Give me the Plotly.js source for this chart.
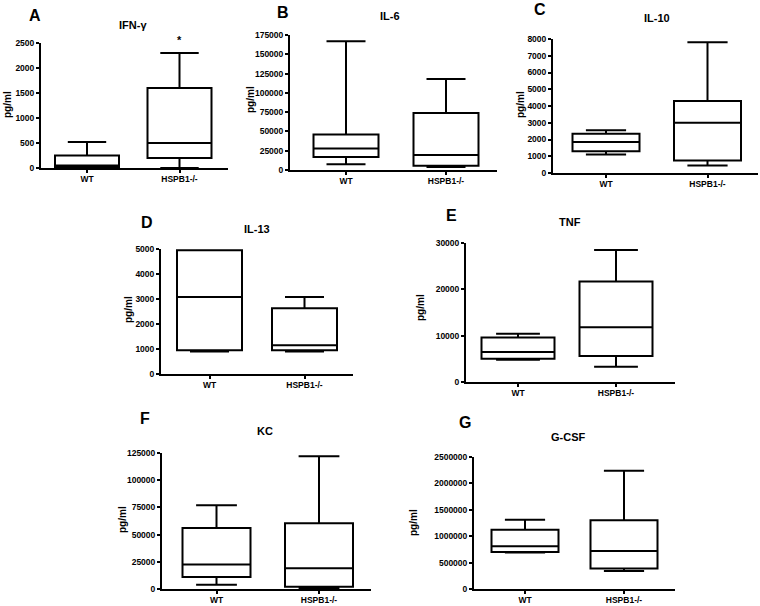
<!DOCTYPE html>
<html><head><meta charset="utf-8">
<script src="https://cdn.plot.ly/plotly-3.0.1.min.js"></script>
<style>html,body{margin:0;padding:0;background:#fff}#chart{width:760px;height:606px}</style>
</head><body><div id="chart"></div>
<script>
const groups = ['WT', 'HSPB1-/-'];
const panelLetters = ['A', 'B', 'C', 'D', 'E', 'F', 'G'];
const cytokines = ['IFN-γ', 'IL-6', 'IL-10', 'IL-13', 'TNF', 'KC', 'G-CSF'];
const yLabel = 'pg/ml';

// five-number summaries [min, q1, median, q3, max]
const ifng_WT = [0, 20, 50, 250, 520];
const ifng_KO = [0, 200, 500, 1600, 2300];
const il6_WT = [7500, 17000, 28000, 46000, 167000];
const il6_KO = [4000, 5500, 19500, 74000, 118000];
const il10_WT = [1100, 1300, 1850, 2350, 2550];
const il10_KO = [450, 750, 3000, 4300, 7800];
const il13_WT = [900, 950, 3080, 4950, 4950];
const il13_KO = [900, 950, 1150, 2630, 3080];
const tnf_WT = [4800, 5000, 6500, 9600, 10400];
const tnf_KO = [3300, 5600, 11800, 21700, 28500];
const kc_WT = [4000, 11000, 22500, 56000, 77000];
const kc_KO = [1000, 2000, 19000, 60500, 122000];
const gcsf_WT = [690000, 700000, 810000, 1120000, 1310000];
const gcsf_KO = [340000, 390000, 720000, 1300000, 2240000];

const yTickMax = [2500, 175000, 8000, 5000, 30000, 125000, 2500000];
const yTickStep = [500, 25000, 1000, 1000, 10000, 25000, 500000];

const seriesWT = [ifng_WT, il6_WT, il10_WT, il13_WT, tnf_WT, kc_WT, gcsf_WT];
const seriesKO = [ifng_KO, il6_KO, il10_KO, il13_KO, tnf_KO, kc_KO, gcsf_KO];

// layout geometry in pixels: y-axis x, x-axis end, zero y, top y, WT centre, KO centre, box width
const W = 760, H = 606;
const geom = [
  {ax: 41, ex: 228, y0: 168, yt: 43, c0: 87, c1: 179.5, bw: 64, letter: [35, 15], title: [133, 25], ylab: [8, 105]},
  {ax: 290, ex: 497, y0: 170, yt: 35, c0: 346, c1: 446, bw: 65, letter: [283, 12], title: [390, 16], ylab: [250, 100]},
  {ax: 553, ex: 758, y0: 173, yt: 39, c0: 606, c1: 707.5, bw: 67, letter: [540, 10], title: [657, 18], ylab: [521, 105]},
  {ax: 161, ex: 353, y0: 374, yt: 249, c0: 209.5, c1: 304.5, bw: 65, letter: [147, 223], title: [257, 229], ylab: [128, 310]},
  {ax: 466, ex: 675, y0: 382, yt: 243, c0: 518, c1: 616, bw: 73, letter: [452, 215], title: [570, 222], ylab: [420, 308]},
  {ax: 162, ex: 371, y0: 589, yt: 453, c0: 216.5, c1: 319, bw: 68, letter: [145, 418], title: [265, 431], ylab: [122, 520]},
  {ax: 474, ex: 675, y0: 589, yt: 457, c0: 525, c1: 624, bw: 67, letter: [465, 422], title: [568, 437], ylab: [413, 523]}
];

const FONT = 'Liberation Sans, Arial, sans-serif';
const traces = [];
const layout = {
  width: W, height: H,
  margin: {l: 0, r: 0, t: 0, b: 0},
  paper_bgcolor: '#fff', plot_bgcolor: '#fff',
  showlegend: false,
  font: {family: FONT, color: '#000'},
  annotations: []
};

geom.forEach((g, i) => {
  const sfx = i === 0 ? '' : String(i + 1);
  const u = g.c1 - g.c0;
  const bwUnits = g.bw / u;
  [seriesWT[i], seriesKO[i]].forEach((s, k) => {
    traces.push({
      type: 'box',
      x: [groups[k]],
      lowerfence: [s[0]], q1: [s[1]], median: [s[2]], q3: [s[3]], upperfence: [s[4]],
      width: bwUnits,
      whiskerwidth: 0.6,
      boxpoints: false,
      line: {color: '#000', width: 2},
      fillcolor: '#fff',
      hoverinfo: 'skip',
      xaxis: 'x' + sfx, yaxis: 'y' + sfx
    });
  });
  const common = {
    showline: true, linewidth: 2, linecolor: '#000',
    ticks: 'outside', ticklen: 3, tickwidth: 2, tickcolor: '#000',
    showgrid: false, zeroline: false, fixedrange: true,
    tickfont: {family: FONT, size: 8.5, weight: 'bold', color: '#000'}
  };
  layout['xaxis' + sfx] = Object.assign({}, common, {
    type: 'category', categoryorder: 'array', categoryarray: groups,
    range: [(g.ax - g.c0) / u, (g.ex - g.c0) / u],
    domain: [g.ax / W, g.ex / W],
    ticklabelstandoff: -1,
    anchor: 'y' + sfx
  });
  layout['yaxis' + sfx] = Object.assign({}, common, {
    range: [0, yTickMax[i]], tickmode: 'linear', tick0: 0, dtick: yTickStep[i],
    tickformat: 'd',
    domain: [1 - g.y0 / H, 1 - g.yt / H],
    anchor: 'x' + sfx
  });
  layout.annotations.push({
    text: panelLetters[i], xref: 'paper', yref: 'paper', x: g.letter[0] / W, y: 1 - g.letter[1] / H,
    xanchor: 'center', yanchor: 'middle', showarrow: false,
    font: {family: FONT, size: 16, weight: 'bold', color: '#000'}
  });
  layout.annotations.push({
    text: cytokines[i], xref: 'paper', yref: 'paper', x: g.title[0] / W, y: 1 - g.title[1] / H,
    xanchor: 'center', yanchor: 'middle', showarrow: false,
    font: {family: FONT, size: 11, weight: 'bold', color: '#000'}
  });
  layout.annotations.push({
    text: yLabel, xref: 'paper', yref: 'paper', x: g.ylab[0] / W, y: 1 - g.ylab[1] / H,
    xanchor: 'center', yanchor: 'middle', textangle: -90, showarrow: false,
    font: {family: FONT, size: 10, weight: 'bold', color: '#000'}
  });
});

// significance mark above HSPB1-/- in panel A
layout.annotations.push({
  text: '*', xref: 'x', yref: 'paper', x: groups[1], y: 1 - 40 / H,
  xanchor: 'center', yanchor: 'middle', showarrow: false,
  font: {family: FONT, size: 11, weight: 'bold', color: '#000'}
});

Plotly.newPlot('chart', traces, layout, {staticPlot: true, displayModeBar: false});
</script>
</body></html>
